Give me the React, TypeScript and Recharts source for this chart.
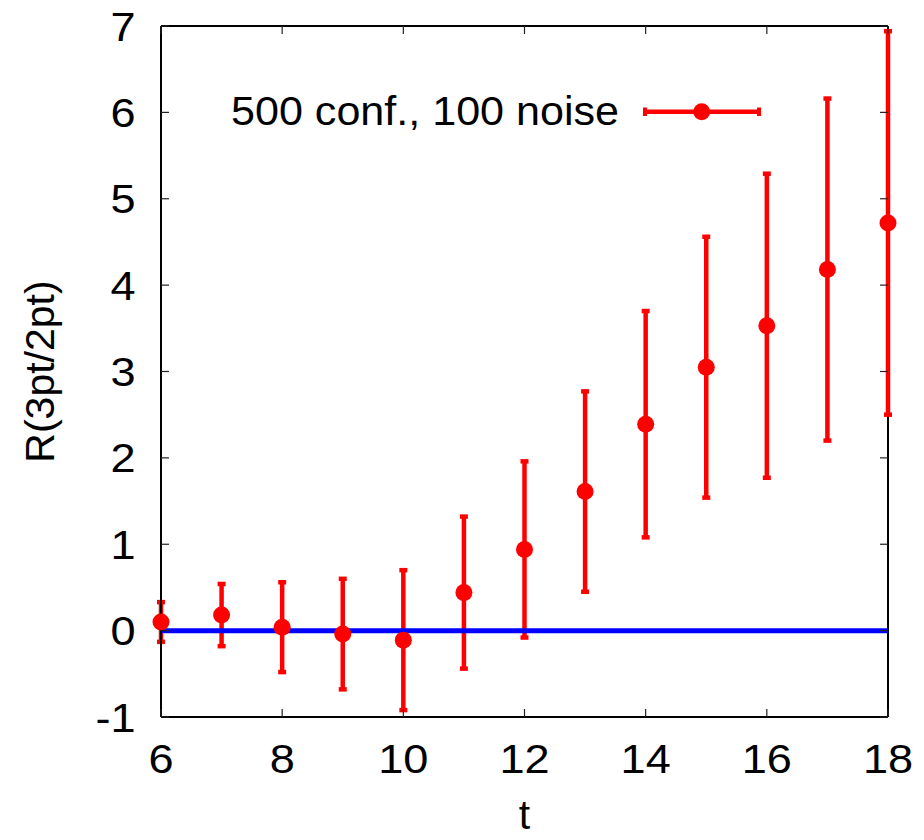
import React from "react";
import {
  ComposedChart,
  Scatter,
  ErrorBar,
  XAxis,
  YAxis,
  ReferenceLine,
} from "recharts";

const tValues = [6, 7, 8, 9, 10, 11, 12, 13, 14, 15, 16, 17, 18];
const ratio = [0.1, 0.18, 0.04, -0.04, -0.11, 0.44, 0.94, 1.61, 2.39, 3.05, 3.53, 4.18, 4.72];
const ratioErr = [0.23, 0.36, 0.52, 0.64, 0.81, 0.88, 1.02, 1.16, 1.31, 1.51, 1.76, 1.98, 2.22];
const xTicks = [6, 8, 10, 12, 14, 16, 18];
const yTicks = [-1, 0, 1, 2, 3, 4, 5, 6, 7];
const xDomain = [6, 18];
const yDomain = [-1, 7];
const zeroLevel = 0;
const seriesName = "500 conf., 100 noise";

const RED = "#ff0000";
const BLUE = "#0000ff";
const FONT = "'Liberation Sans', Arial, sans-serif";

// plot box in page pixels (margin + axis sizes below)
const PLOT_TOP = 26;
const PLOT_RIGHT = 888;
const TICK_LEN = 8;

const data = tValues.map((t, i) => ({ t, r: ratio[i], err: ratioErr[i] }));

function Dot(props: any) {
  const { cx, cy } = props;
  return <circle cx={cx} cy={cy} r={8.5} fill={RED} />;
}

// bottom tick: inward mark at bottom and top edge, plus label
function XTick(props: any) {
  const { x, y, payload } = props;
  return (
    <g>
      <line x1={x} y1={y} x2={x} y2={y - TICK_LEN} stroke="#222" strokeWidth={1.2} />
      <line x1={x} y1={PLOT_TOP} x2={x} y2={PLOT_TOP + TICK_LEN} stroke="#222" strokeWidth={1.2} />
      <text
        transform={`translate(${x},${y + 56}) scale(1.1,1)`}
        textAnchor="middle"
        fontSize={41}
        fontFamily={FONT}
        fill="#000"
      >
        {payload.value}
      </text>
    </g>
  );
}

// left tick: inward mark at left and right edge, plus label
function YTick(props: any) {
  const { x, y, payload } = props;
  return (
    <g>
      <line x1={x} y1={y} x2={x + TICK_LEN} y2={y} stroke="#222" strokeWidth={1.2} />
      <line x1={PLOT_RIGHT} y1={y} x2={PLOT_RIGHT - TICK_LEN} y2={y} stroke="#222" strokeWidth={1.2} />
      <text
        transform={`translate(${x - 25.5},${y + 14.5}) scale(1.1,1)`}
        textAnchor="end"
        fontSize={41}
        fontFamily={FONT}
        fill="#000"
      >
        {payload.value}
      </text>
    </g>
  );
}

function LegendBox() {
  return (
    <svg
      width={924}
      height={160}
      style={{ position: "absolute", left: 0, top: 0, pointerEvents: "none" }}
    >
      <text
        x={231}
        y={125}
        fontSize={40}
        fontFamily={FONT}
        fill="#000"
        textLength={388}
        lengthAdjust="spacingAndGlyphs"
      >
        {seriesName}
      </text>
      <line x1={645} y1={111.7} x2={759} y2={111.7} stroke={RED} strokeWidth={4.5} />
      <line x1={645} y1={107.5} x2={645} y2={116} stroke={RED} strokeWidth={4} />
      <line x1={759} y1={107.5} x2={759} y2={116} stroke={RED} strokeWidth={4} />
      <circle cx={701.7} cy={111.7} r={8.5} fill={RED} />
    </svg>
  );
}

export default function App() {
  return (
    <div style={{ position: "absolute", left: 0, top: 0, width: 924, height: 840, background: "#fff" }}>
      <ComposedChart
        width={924}
        height={840}
        data={data}
        margin={{ top: PLOT_TOP, right: 924 - PLOT_RIGHT, bottom: 0, left: 0 }}
      >
        <XAxis
          xAxisId="b"
          type="number"
          dataKey="t"
          domain={xDomain}
          ticks={xTicks}
          height={123}
          stroke="#000"
          strokeWidth={2}
          tickLine={false}
          tickSize={0}
          tickMargin={0}
          tick={<XTick />}
          label={{
            content: (p: any) => {
              const vb = p.viewBox;
              return (
                <text
                  x={vb.x + vb.width / 2}
                  y={vb.y + 112}
                  textAnchor="middle"
                  fontSize={41}
                  fontFamily={FONT}
                  fill="#000"
                >
                  t
                </text>
              );
            },
          }}
        />
        <YAxis
          yAxisId="l"
          type="number"
          domain={yDomain}
          ticks={yTicks}
          width={161}
          stroke="#000"
          strokeWidth={2}
          tickLine={false}
          tickSize={0}
          tickMargin={0}
          tick={<YTick />}
          label={{
            content: (p: any) => {
              const vb = p.viewBox;
              const cx = vb.x + 40;
              const cy = vb.y + vb.height / 2;
              return (
                <text
                  x={cx}
                  y={cy}
                  transform={`rotate(-90 ${cx} ${cy})`}
                  textAnchor="middle"
                  dominantBaseline="central"
                  fontSize={41}
                  fontFamily={FONT}
                  fill="#000"
                >
                  R(3pt/2pt)
                </text>
              );
            },
          }}
        />
        <ReferenceLine xAxisId="b" yAxisId="l" y={yDomain[1]} stroke="#000" strokeWidth={2} />
        <ReferenceLine xAxisId="b" yAxisId="l" x={xDomain[1]} stroke="#000" strokeWidth={2} />
        <Scatter
          xAxisId="b"
          yAxisId="l"
          dataKey="r"
          name={seriesName}
          fill={RED}
          shape={<Dot />}
          isAnimationActive={false}
        >
          <ErrorBar dataKey="err" direction="y" stroke={RED} strokeWidth={4.5} width={4} isAnimationActive={false} />
        </Scatter>
        <ReferenceLine xAxisId="b" yAxisId="l" y={zeroLevel} stroke={BLUE} strokeWidth={5} />
      </ComposedChart>
      <LegendBox />
    </div>
  );
}
